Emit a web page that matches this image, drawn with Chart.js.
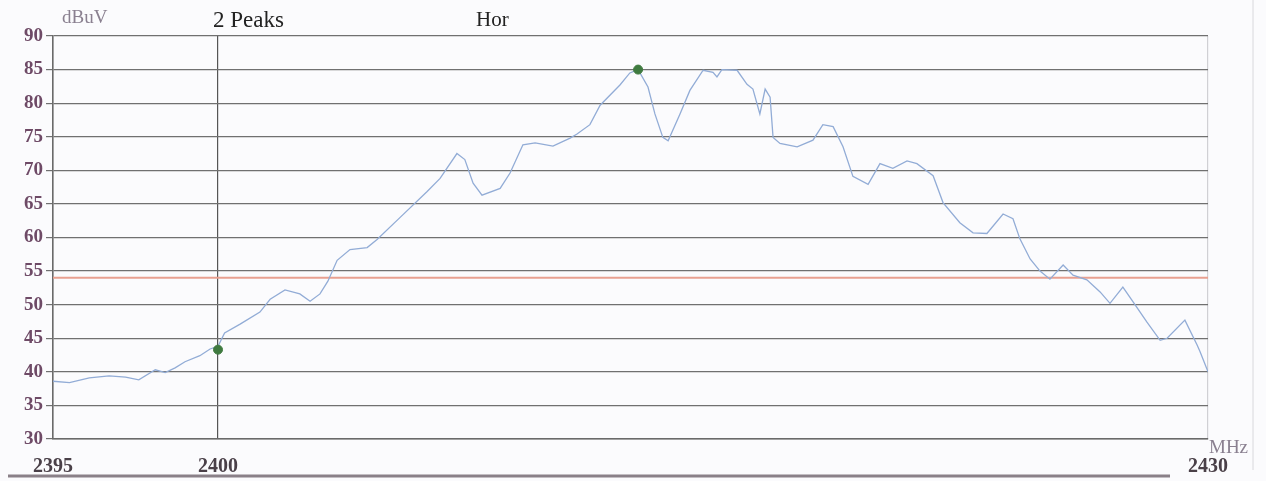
<!DOCTYPE html>
<html>
<head>
<meta charset="utf-8">
<script src="https://cdn.jsdelivr.net/npm/chart.js@4"></script>
<style>
  html, body { margin: 0; padding: 0; background: #fbfbfd; }
  #wrap { width: 1266px; height: 481px; }
</style>
</head>
<body>
<div id="wrap"><canvas id="scan"></canvas></div>
<script>
// frequency (MHz) and level (dBuV) of the trace
const freq = [
  2395.0, 2395.5, 2396.1, 2396.7, 2397.2, 2397.6, 2398.1, 2398.4, 2398.7, 2399.0,
  2399.45, 2399.76, 2400.0, 2400.2, 2400.67, 2401.27, 2401.58, 2402.03, 2402.48, 2402.79,
  2403.09, 2403.33, 2403.61, 2404.0, 2404.52, 2404.82, 2405.52, 2406.33, 2406.73, 2407.24,
  2407.48, 2407.73, 2408.0, 2408.55, 2408.85, 2409.24, 2409.61, 2410.15, 2410.67, 2410.88,
  2411.27, 2411.58, 2412.18, 2412.48, 2412.73, 2413.03, 2413.24, 2413.48, 2413.64, 2414.0,
  2414.3, 2414.7, 2415.0, 2415.12, 2415.27, 2415.73, 2416.03, 2416.21, 2416.42, 2416.58,
  2416.73, 2416.82, 2417.03, 2417.55, 2418.03, 2418.33, 2418.64, 2418.94, 2419.24, 2419.7,
  2420.06, 2420.45, 2420.88, 2421.18, 2421.67, 2421.97, 2422.48, 2422.88, 2423.3, 2423.79,
  2424.09, 2424.3, 2424.61, 2424.91, 2425.21, 2425.61, 2425.91, 2426.33, 2426.73, 2427.03,
  2427.42, 2427.73, 2428.15, 2428.55, 2428.76, 2429.3, 2429.67, 2429.76, 2430.0
];
const level = [
  38.6, 38.4, 39.1, 39.4, 39.2, 38.8, 40.3, 39.9, 40.6, 41.5,
  42.4, 43.4, 43.8, 45.8, 47.1, 48.9, 50.8, 52.2, 51.6, 50.5,
  51.6, 53.5, 56.6, 58.2, 58.5, 59.7, 63.0, 66.8, 68.8, 72.5,
  71.6, 68.1, 66.3, 67.3, 69.6, 73.8, 74.1, 73.6, 74.8, 75.4,
  76.8, 79.7, 82.7, 84.5, 85.0, 82.4, 78.4, 74.9, 74.4, 78.4,
  81.9, 84.9, 84.6, 83.9, 85.0, 84.9, 82.8, 82.1, 78.4, 82.1,
  80.9, 74.9, 74.0, 73.5, 74.5, 76.8, 76.5, 73.5, 69.1, 67.9,
  71.0, 70.3, 71.4, 71.0, 69.2, 65.2, 62.2, 60.7, 60.6, 63.5,
  62.8, 59.8, 56.8, 55.0, 53.8, 55.9, 54.4, 53.7, 51.9, 50.2,
  52.6, 50.4, 47.4, 44.7, 45.0, 47.7, 44.0, 43.0, 40.0
];
// marked peaks
const peakFreq = [2400.0, 2412.73];
const peakLevel = [43.3, 85.0];
// limit line
const limitFreq = [2395, 2430];
const limitLevel = [54, 54];
// axis ticks
const yTicks = [30, 35, 40, 45, 50, 55, 60, 65, 70, 75, 80, 85, 90];
const xTicks = [2395, 2400, 2430];

const serif = "'Liberation Serif', 'DejaVu Serif', serif";

const annotations = {
  id: "annotations",
  afterDraw(chart) {
    const c = chart.ctx;
    c.save();
    c.textBaseline = "alphabetic";
    c.fillStyle = "#8a8090";
    c.font = "19px " + serif;
    c.fillText("dBuV", 62, 23);
    c.fillText("MHz", 1209, 453);
    c.fillStyle = "#222";
    c.font = "23px " + serif;
    c.fillText("2 Peaks", 213, 27);
    c.font = "21px " + serif;
    c.fillText("Hor", 476, 26);
    // scanned page edges
    c.strokeStyle = "#8a8088";
    c.lineWidth = 3;
    c.beginPath();
    c.moveTo(8, 476);
    c.lineTo(1170, 476);
    c.stroke();
    c.strokeStyle = "#d8d8dc";
    c.lineWidth = 1;
    c.beginPath();
    c.moveTo(1253, 0);
    c.lineTo(1253, 470);
    c.stroke();
    c.restore();
  }
};

new Chart(document.getElementById("scan"), {
  type: "line",
  data: {
    datasets: [
      {
        label: "Peaks",
        data: peakFreq.map((f, i) => ({ x: f, y: peakLevel[i] })),
        showLine: false,
        pointRadius: 4.5,
        pointBackgroundColor: "#3f7a3f",
        pointBorderColor: "#3f7a3f",
      },
      {
        label: "Trace",
        data: freq.map((f, i) => ({ x: f, y: level[i] })),
        borderColor: "#92acd6",
        borderWidth: 1.3,
        pointRadius: 0,
        tension: 0,
      },
      {
        label: "Limit",
        data: limitFreq.map((f, i) => ({ x: f, y: limitLevel[i] })),
        borderColor: "#e8a090",
        borderWidth: 2,
        pointRadius: 0,
      },
    ],
  },
  options: {
    responsive: true,
    maintainAspectRatio: false,
    animation: false,
    layout: { padding: { top: 36, right: 58, bottom: 0, left: 0 } },
    plugins: {
      legend: { display: false },
      tooltip: { enabled: false },
    },
    scales: {
      x: {
        type: "linear",
        min: 2395,
        max: 2430,
        afterBuildTicks: (axis) => { axis.ticks = xTicks.map((v) => ({ value: v })); },
        afterFit: (axis) => { axis.height = 42; },
        border: { display: true, color: "#6a6a6a", width: 1.5 },
        grid: {
          drawTicks: false,
          color: (ctx) => (ctx.tick && ctx.tick.value === 2430 ? "#d0d0d4" : "#555"),
          lineWidth: 1.2,
        },
        ticks: {
          padding: 16,
          color: "#4a4048",
          font: { family: serif, size: 20, weight: "bold" },
          callback: (v) => String(v),
          maxRotation: 0,
        },
      },
      y: {
        min: 30,
        max: 90,
        afterBuildTicks: (axis) => { axis.ticks = yTicks.map((v) => ({ value: v })); },
        afterFit: (axis) => { axis.width = 53; },
        border: { display: true, color: "#6a6a6a", width: 1.5 },
        grid: {
          color: "#707070",
          lineWidth: 1.2,
          tickLength: 7,
        },
        ticks: {
          padding: 3,
          color: "#6e4a66",
          font: { family: serif, size: 19, weight: "bold" },
        },
      },
    },
  },
  plugins: [annotations],
});
</script>
</body>
</html>
